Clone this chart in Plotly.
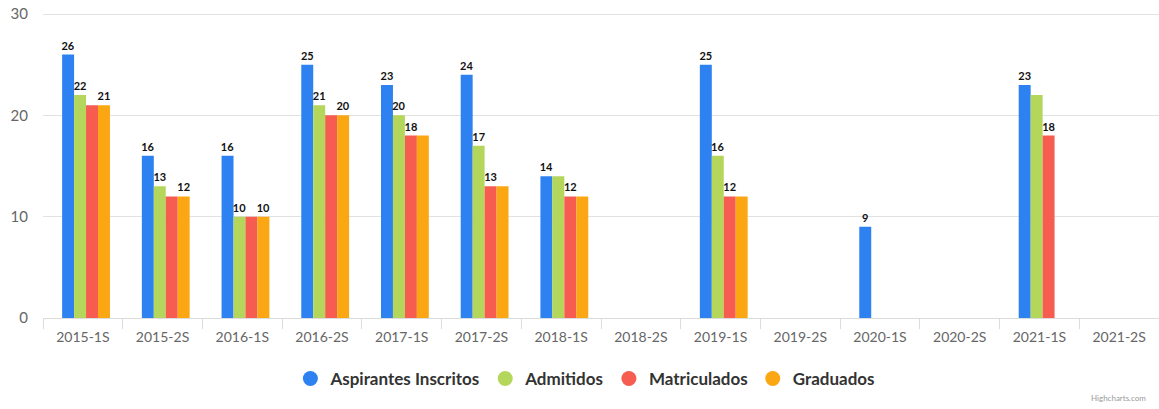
import plotly.graph_objects as go

# --- data ---
periodos = ["2015-1S", "2015-2S", "2016-1S", "2016-2S", "2017-1S", "2017-2S", "2018-1S",
            "2018-2S", "2019-1S", "2019-2S", "2020-1S", "2020-2S", "2021-1S", "2021-2S"]

aspirantes = [26, 16, 16, 25, 23, 24, 14, None, 25, None, 9, None, 23, None]
admitidos = [22, 13, 10, 21, 20, 17, 14, None, 16, None, None, None, 22, None]
matriculados = [21, 12, 10, 20, 18, 13, 12, None, 12, None, None, None, 18, None]
graduados = [21, 12, 10, 20, 18, 13, 12, None, 12, None, None, None, None, None]

# labels that are visible in the original (the rest were hidden by overlap)
lbl_aspirantes = ["26", "16", "16", "25", "23", "24", "14", "", "25", "", "9", "", "23", ""]
lbl_admitidos = ["22", "13", "10", "21", "20", "17", "", "", "16", "", "", "", "", ""]
lbl_matriculados = ["", "", "", "", "18", "13", "12", "", "12", "", "", "", "18", ""]
lbl_graduados = ["21", "12", "10", "20", "", "", "", "", "", "", "", "", "", ""]

series = [
    ("Aspirantes Inscritos", aspirantes, lbl_aspirantes, "#2d81f0"),
    ("Admitidos", admitidos, lbl_admitidos, "#b4d65b"),
    ("Matriculados", matriculados, lbl_matriculados, "#f65c50"),
    ("Graduados", graduados, lbl_graduados, "#fba714"),
]

bar_w = 0.15      # width of one bar (fraction of a category)
shift = 0.04      # the original groups sit slightly right of centre

fig = go.Figure()

for i, (name, vals, lbls, color) in enumerate(series):
    fig.add_trace(go.Bar(
        x=periodos, y=vals, name=name, text=lbls,
        width=bar_w, offset=-2 * bar_w + shift + i * bar_w,
        marker=dict(color=color, line=dict(width=0)),
        textposition="outside", constraintext="none", cliponaxis=False,
        textfont=dict(family="Lato", size=11, color="#111111", weight="bold"),
        showlegend=False, hoverinfo="x+y+name",
    ))
    # circle symbols for the legend
    fig.add_trace(go.Scatter(
        x=[None], y=[None], mode="markers", name=name,
        marker=dict(symbol="circle", size=15, color=color),
        showlegend=True,
    ))

fig.add_annotation(text="Highcharts.com", xref="paper", yref="paper",
                   x=0.99, y=-0.262, xanchor="right", yanchor="middle",
                   showarrow=False, font=dict(size=8, color="#999999"))

# top of range a hair above 30 so plotly keeps the 30 gridline
fig.update_layout(
    width=1159, height=409,
    margin=dict(l=43, r=0, t=13, b=91, autoexpand=False),
    paper_bgcolor="white", plot_bgcolor="white",
    barmode="group",
    font=dict(family="Lato", color="#666666"),
    legend=dict(orientation="h", x=0.486, xanchor="center", y=-0.2, yanchor="middle",
                font=dict(size=17, color="#333333", weight="bold"),
                itemsizing="trace", itemwidth=30, tracegroupgap=0),
    xaxis=dict(type="category", categoryorder="array", categoryarray=periodos,
               showline=True, linecolor="#dcdcdc", linewidth=1,
               ticks="outside", tickson="boundaries", ticklen=10, tickcolor="#dcdcdc",
               tickfont=dict(size=14, color="#666666"), ticklabelstandoff=6,
               showgrid=False),
    yaxis=dict(range=[0, 30.1], tickvals=[0, 10, 20, 30], showgrid=True, gridcolor="#e2e2e2",
               zeroline=False, tickfont=dict(size=15, color="#666666"),
               ticklabelstandoff=14),
)

# drop the default 8px page margin so the figure fills the window exactly
fig.write_html("out.html", config={"displayModeBar": False},
               post_script="document.body.style.margin='0';")
